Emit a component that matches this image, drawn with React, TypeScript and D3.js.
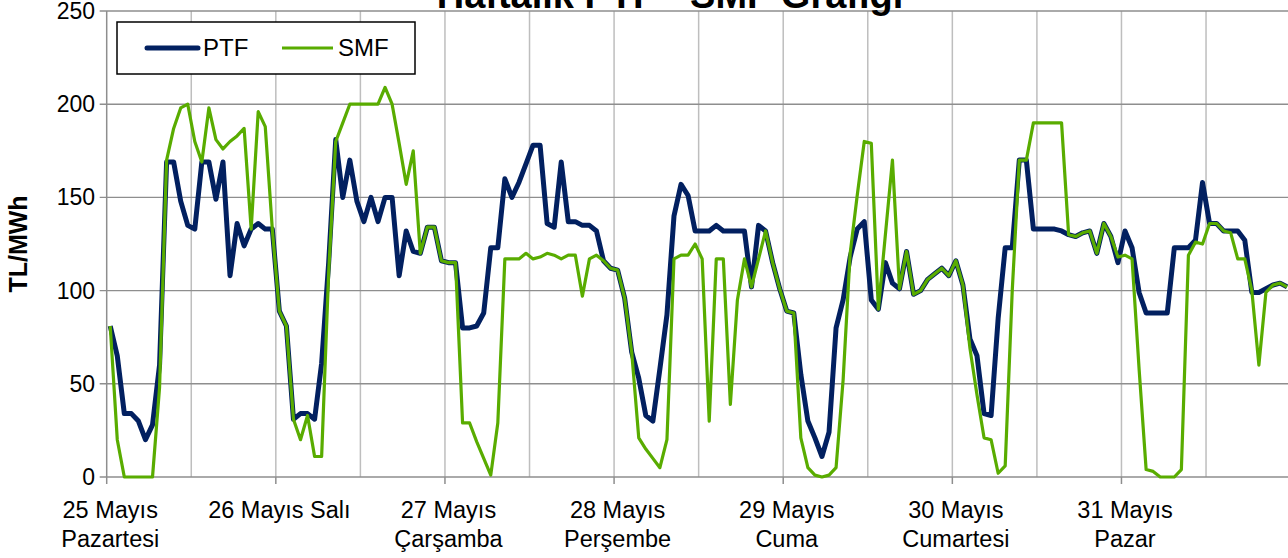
import React from "react";
import * as d3 from "d3";

const days = [
  ["25 Mayıs", "Pazartesi"],
  ["26 Mayıs Salı"],
  ["27 Mayıs", "Çarşamba"],
  ["28 Mayıs", "Perşembe"],
  ["29 Mayıs", "Cuma"],
  ["30 Mayıs", "Cumartesi"],
  ["31 Mayıs", "Pazar"],
];

const yTicks = [0, 50, 100, 150, 200, 250];

const ptf = [
  81, 65, 34, 34, 30, 20, 28, 60, 169, 169, 148, 135, 133, 169, 169, 149, 169, 108, 136, 124, 133, 136, 133, 133,
  89, 81, 31, 34, 34, 31, 61, 115, 181, 150, 170, 148, 137, 150, 137, 150, 150, 108, 132, 121, 120, 134, 134, 116,
  115, 115, 80, 80, 81, 88, 123, 123, 160, 150, 158, 168, 178, 178, 136, 134, 169, 137, 137, 135, 135, 132, 116, 112,
  111, 96, 67, 53, 33, 30, 58, 87, 140, 157, 151, 132, 132, 132, 135, 132, 132, 132, 132, 102, 135, 132, 115, 101,
  89, 88, 55, 30, 21, 11, 24, 80, 95, 118, 133, 137, 95, 90, 115, 104, 101, 121, 98, 100, 106, 109, 112, 108,
  116, 103, 74, 65, 34, 33, 85, 123, 123, 170, 170, 133, 133, 133, 133, 132, 130, 129, 131, 132, 120, 136, 129, 115,
  132, 123, 99, 88, 88, 88, 88, 123, 123, 123, 127, 158, 136, 136, 132, 132, 132, 127, 99, 99, 101, 103, 104, 102,
];

const smf = [
  81, 20, 0, 0, 0, 0, 0, 48, 170, 187, 198, 200, 180, 169, 198, 181, 176, 180, 183, 187, 133, 196, 188, 133,
  89, 81, 31, 20, 33, 11, 11, 110, 180, 190, 200, 200, 200, 200, 200, 209, 200, 179, 157, 175, 120, 134, 134, 116,
  115, 115, 29, 29, 19, 10, 1, 29, 117, 117, 117, 120, 117, 118, 120, 119, 117, 119, 119, 97, 117, 119, 116, 112,
  111, 96, 67, 21, 15, 10, 5, 20, 117, 119, 119, 125, 117, 30, 117, 117, 39, 95, 117, 102, 117, 132, 115, 101,
  89, 88, 21, 5, 1, 0, 1, 5, 52, 120, 151, 180, 179, 90, 130, 170, 101, 121, 98, 100, 106, 109, 112, 108,
  116, 103, 69, 44, 21, 20, 2, 6, 100, 170, 170, 190, 190, 190, 190, 190, 130, 129, 131, 132, 120, 136, 129, 118,
  119, 117, 58, 4, 3, 0, 0, 0, 4, 119, 126, 125, 136, 136, 132, 131, 117, 117, 100, 60, 99, 103, 104, 102,
];

const W = 1288;
const H = 558;
const left = 106.7;
const step = 7.047;
const n = ptf.length;

export default function App() {
  const x = d3.scaleLinear().domain([0, n]).range([left, left + n * step]);
  const y = d3.scaleLinear().domain([0, 250]).range([477, 11]);
  const cx = (i: number) => x(i + 0.5);
  const line = d3
    .line<number>()
    .x((_, i) => cx(i))
    .y((d) => y(d));

  const grid12 = d3.range(12, n + 1, 12);
  const dayTicks = d3.range(0, n + 1, 24);
  const font = "'Liberation Sans', Arial, sans-serif";

  return (
    <svg
      width={W}
      height={H}
      style={{ position: "absolute", left: 0, top: 0, background: "#fff" }}
      fontFamily={font}
    >
      <rect width={W} height={H} fill="#fff" />
      {grid12.map((g) => (
        <line key={"v" + g} x1={x(g)} x2={x(g)} y1={y(250)} y2={y(0)} stroke="#BEBEBE" strokeWidth={1.5} />
      ))}
      {yTicks.map((t) => (
        <line key={"h" + t} x1={left - 7} x2={W} y1={y(t)} y2={y(t)} stroke="#8E8E8E" strokeWidth={1.4} />
      ))}
      <line x1={left} x2={left} y1={y(250)} y2={y(0)} stroke="#8E8E8E" strokeWidth={1.5} />
      {dayTicks.map((t) => (
        <line key={"t" + t} x1={x(t)} x2={x(t)} y1={y(0)} y2={y(0) + 7} stroke="#8E8E8E" strokeWidth={1.5} />
      ))}
      {yTicks.map((t) => (
        <text key={"yl" + t} x={95} y={y(t)} dy="0.35em" textAnchor="end" fontSize={23} fill="#000">
          {t}
        </text>
      ))}
      {days.map((lines, k) => (
        <text key={"d" + k} x={cx(k * 24)} y={518} textAnchor="middle" fontSize={23.5} fill="#000">
          {lines.map((l, j) => (
            <tspan key={j} x={cx(k * 24)} dy={j === 0 ? 0 : 29}>
              {l}
            </tspan>
          ))}
        </text>
      ))}
      <text
        transform={`translate(27,${y(125)}) rotate(-90)`}
        textAnchor="middle"
        fontSize={25}
        fontWeight="bold"
        fill="#000"
      >
        TL/MWh
      </text>
      <text x={670} y={8} textAnchor="middle" fontSize={38} fontWeight="bold" fill="#000">
        Haftalık PTF - SMF Grafiği
      </text>
      <path d={line(ptf) || ""} fill="none" stroke="#022060" strokeWidth={5} strokeLinejoin="round" />
      <path d={line(smf) || ""} fill="none" stroke="#59AC00" strokeWidth={3.2} strokeLinejoin="round" />
      <rect x={117} y={22} width={298} height={52} fill="#fff" stroke="#000" strokeWidth={1.5} />
      <line x1={147} x2={198} y1={48} y2={48} stroke="#022060" strokeWidth={5} strokeLinecap="round" />
      <text x={203} y={56} fontSize={24} fill="#000">PTF</text>
      <line x1={282} x2={333} y1={48} y2={48} stroke="#59AC00" strokeWidth={3.2} />
      <text x={338} y={56} fontSize={24} fill="#000">SMF</text>
    </svg>
  );
}
